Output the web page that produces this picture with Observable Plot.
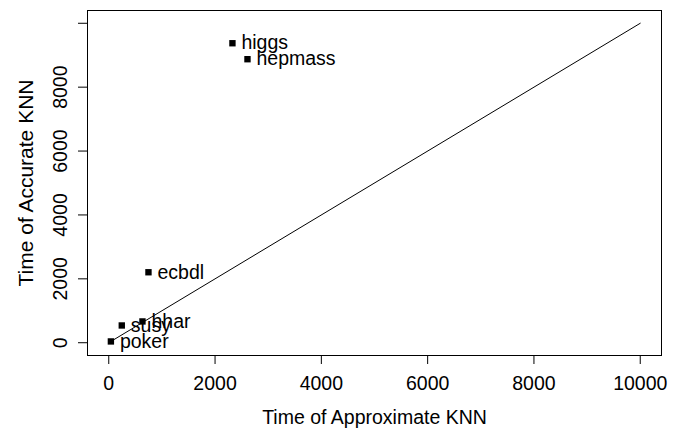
<!DOCTYPE html>
<html>
<head>
<meta charset="utf-8">
<script src="https://cdn.jsdelivr.net/npm/d3@7"></script>
<script src="https://cdn.jsdelivr.net/npm/@observablehq/plot@0.6"></script>
<style>
  html, body { margin: 0; padding: 0; background: #fff; }
  svg { display: block; }
</style>
</head>
<body>
<div id="chart"></div>
<script>
// Data
const datasets = ["poker", "susy", "hhar", "ecbdl", "higgs", "hepmass"];
const approxTime = [40, 245, 634, 747, 2327, 2610];
const accurateTime = [40, 540, 666, 2206, 9375, 8875];
const diagonal = [0, 10000];
const xTicks = [0, 2000, 4000, 6000, 8000, 10000];
const yTicks = [0, 2000, 4000, 6000, 8000, 10000];
const yTickLabels = [0, 2000, 4000, 6000, 8000];
const xTitle = "Time of Approximate KNN";
const yTitle = "Time of Accurate KNN";

const points = datasets.map((d, i) => ({name: d, x: approxTime[i], y: accurateTime[i]}));
const line = diagonal.map(v => ({x: v, y: v}));

const FS = 19.5;
const chart = Plot.plot({
  width: 680,
  height: 432,
  marginLeft: 87,
  marginRight: 19,
  marginTop: 10,
  marginBottom: 77,
  style: {fontFamily: "'Liberation Sans', Arial, sans-serif", background: "#fff", color: "#000"},
  x: {domain: [-400, 10400]},
  y: {domain: [-400, 10400]},
  marks: [
    Plot.frame({stroke: "#000", strokeWidth: 1}),
    Plot.axisX({ticks: xTicks, tickSize: 9, tickPadding: 12, fontSize: FS, label: null, tickFormat: d => String(d)}),
    Plot.axisY({ticks: yTicks, tickSize: 9, label: null, tickFormat: () => ""}),
    Plot.text(yTickLabels, {y: d => d, text: d => String(d), frameAnchor: "left", dx: -27, rotate: -90, textAnchor: "middle", lineAnchor: "middle", fontSize: FS}),
    Plot.text([xTitle], {text: d => d, frameAnchor: "bottom", dy: 62, textAnchor: "middle", lineAnchor: "middle", fontSize: FS}),
    Plot.text([yTitle], {text: d => d, frameAnchor: "left", dx: -61, dy: 0, rotate: -90, textAnchor: "middle", lineAnchor: "middle", fontSize: 21}),
    Plot.line(line, {x: "x", y: "y", stroke: "#000", strokeWidth: 1}),
    Plot.dot(points, {x: "x", y: "y", symbol: "square", r: 3.6, fill: "#000", stroke: "none"}),
    Plot.text(points, {x: "x", y: "y", text: "name", dx: 9, textAnchor: "start", lineAnchor: "middle", fontSize: FS, fill: "#000"})
  ]
});
document.getElementById("chart").appendChild(chart);
</script>
</body>
</html>
